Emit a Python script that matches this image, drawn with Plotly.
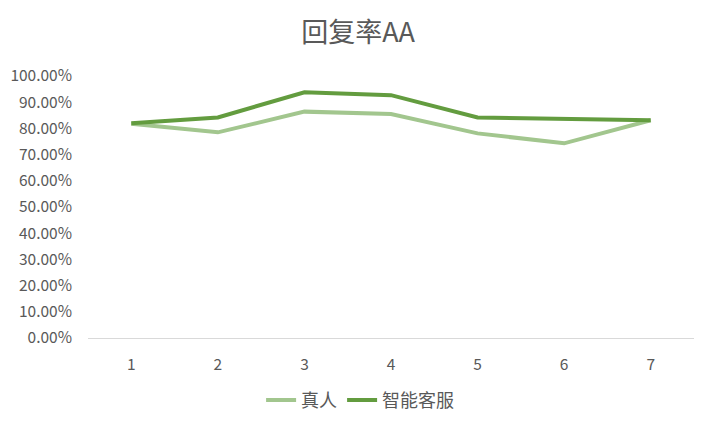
import plotly.graph_objects as go

categories = [1, 2, 3, 4, 5, 6, 7]
human = [0.818, 0.785, 0.864, 0.855, 0.781, 0.743, 0.831]
bot = [0.820, 0.842, 0.938, 0.927, 0.842, 0.836, 0.831]
series_names = ["真人", "智能客服"]
title_text = "回复率AA"

FONT = "Noto Sans CJK SC, Noto Sans, sans-serif"
GREY = "#595959"

# page body has an 8px margin, so the figure is 8px smaller and margins shifted
W, H = 708, 421

fig = go.Figure()
fig.add_trace(go.Scatter(x=categories, y=human, mode="lines", name=series_names[0],
                         line=dict(color="#A2C68E", width=4)))
fig.add_trace(go.Scatter(x=categories, y=bot, mode="lines", name=series_names[1],
                         line=dict(color="#639C3F", width=4)))

fig.update_layout(
    width=W, height=H,
    margin=dict(l=80, r=22, t=68, b=91, pad=0, autoexpand=False),
    paper_bgcolor="white", plot_bgcolor="white",
    font=dict(family=FONT, color=GREY, size=16),
    title=dict(text=title_text, x=350 / W, xanchor="center", xref="container",
               y=1 - 25 / H, yref="container", yanchor="middle",
               font=dict(size=27, color=GREY, family=FONT)),
    showlegend=True,
    legend=dict(orientation="h", x=0.449, xanchor="center", y=-0.238, yanchor="middle",
                font=dict(size=18, color=GREY, family=FONT), itemwidth=30),
)
fig.update_xaxes(range=[0.5, 7.5], tickvals=categories, ticktext=[str(c) for c in categories],
                 showgrid=False, zeroline=False, showline=True, linecolor="#D9D9D9", linewidth=1,
                 ticks="", ticklabelstandoff=12, automargin=False,
                 tickfont=dict(size=15.5, color=GREY))
fig.update_yaxes(range=[0, 1], dtick=0.1, tickformat=".2%", showgrid=False, zeroline=False,
                 showline=False, ticks="", ticklabelstandoff=15, automargin=False,
                 tickfont=dict(size=15.5, color=GREY))

fig.write_html("out.html")
